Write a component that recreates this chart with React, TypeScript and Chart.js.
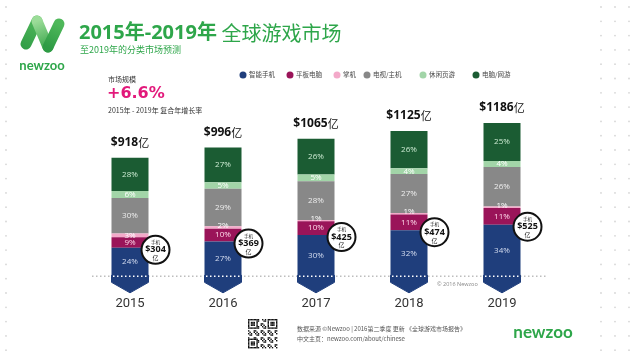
import React, { useEffect, useRef } from "react";
import { Chart, registerables } from "chart.js";
Chart.register(...registerables);

const years = ["2015", "2016", "2017", "2018", "2019"];
const totals = [918, 996, 1065, 1125, 1186];
const mobileTotals = [304, 369, 425, 474, 525];
const seriesNames = ["智能手机", "平板电脑", "掌机", "电视/主机", "休闲页游", "电脑/网游"];
const smartphonePct = [24, 27, 30, 32, 34];
const tabletPct = [9, 10, 10, 11, 11];
const handheldPct = [3, 2, 1, 1, 1];
const tvConsolePct = [30, 29, 28, 27, 26];
const casualWebPct = [6, 5, 5, 4, 4];
const pcPct = [28, 27, 26, 26, 25];
const cagrText = "+6.6%";

const seriesPct = [smartphonePct, tabletPct, handheldPct, tvConsolePct, casualWebPct, pcPct];
const seriesColors = ["#1f3e7c", "#9a1459", "#f3a9c9", "#888888", "#a2d5a8", "#1b5c33"];
const labelColors = ["#d5ddf0", "#ffd9ea", "#ffffff", "#eeeeee", "#ffffff", "#cdebd3"];
const legendX = [243, 290, 337, 367, 423, 476];

const GREEN = "#2ea64a";
const CJK = "'Noto Sans CJK SC'";

function sumAt(i: number) {
  return seriesPct.reduce((s, arr) => s + arr[i], 0);
}

function txt(ctx: CanvasRenderingContext2D, s: string, x: number, y: number, font: string, color: string, align: CanvasTextAlign = "left") {
  ctx.font = font;
  ctx.fillStyle = color;
  ctx.textAlign = align;
  ctx.textBaseline = "middle";
  ctx.fillText(s, x, y);
}

const decorPlugin = {
  id: "decor",
  beforeDraw(chart: any) {
    const ctx: CanvasRenderingContext2D = chart.ctx;
    ctx.save();
    // edge dot pattern
    ctx.fillStyle = "#d6d6d6";
    for (let y = 7; y < 360; y += 14.3) {
      for (const x of [6, 601, 615, 629]) {
        ctx.beginPath();
        ctx.arc(x, y, 0.9, 0, Math.PI * 2);
        ctx.fill();
      }
    }
    // logo
    ctx.lineCap = "round";
    ctx.lineWidth = 11;
    const g1 = ctx.createLinearGradient(20, 50, 40, 15);
    g1.addColorStop(0, "#2e9b45");
    g1.addColorStop(1, "#56bb5e");
    ctx.strokeStyle = g1;
    ctx.beginPath(); ctx.moveTo(26, 44); ctx.lineTo(37, 21); ctx.stroke();
    const g2 = ctx.createLinearGradient(37, 21, 48, 48);
    g2.addColorStop(0, "#9bdc98");
    g2.addColorStop(1, "#3aa64b");
    ctx.strokeStyle = g2;
    ctx.beginPath(); ctx.moveTo(37, 21); ctx.lineTo(48, 47); ctx.stroke();
    const g3 = ctx.createLinearGradient(48, 47, 59, 24);
    g3.addColorStop(0, "#2e9b45");
    g3.addColorStop(1, "#4fb85a");
    ctx.strokeStyle = g3;
    ctx.beginPath(); ctx.moveTo(48, 47); ctx.lineTo(59, 24); ctx.stroke();
    txt(ctx, "newzoo", 42, 66, "bold 13px Lato", GREEN, "center");

    // title
    ctx.font = "bold 20px 'Open Sans', " + CJK;
    const t1 = "2015年-2019年";
    txt(ctx, t1, 79, 33, "bold 20px 'Open Sans', " + CJK, GREEN);
    const w1 = ctx.measureText(t1).width;
    txt(ctx, " 全球游戏市场", 79 + w1, 33, "20px " + CJK, GREEN);
    txt(ctx, "至2019年的分类市场预测", 80, 50, "9px " + CJK, GREEN);

    // left info block
    txt(ctx, "市场规模", 108, 79, "7px " + CJK, "#333333");
    txt(ctx, cagrText, 107, 94, "bold 16px 'DejaVu Sans'", "#e2197b");
    txt(ctx, "2015年 - 2019年 复合年增长率", 108, 110, "7px " + CJK, "#333333");

    // legend
    seriesNames.forEach((name, k) => {
      ctx.fillStyle = seriesColors[k];
      ctx.beginPath();
      ctx.arc(legendX[k], 75, 3.5, 0, Math.PI * 2);
      ctx.fill();
      txt(ctx, name, legendX[k] + 6, 75, "6.5px " + CJK, "#444444");
    });

    // footer
    const qx = 248, qy = 319, m = 1.4;
    ctx.fillStyle = "#111111";
    for (let i = 0; i < 21; i++) {
      for (let j = 0; j < 21; j++) {
        const finder = (i < 7 && j < 7) || (i < 7 && j > 13) || (i > 13 && j < 7);
        let on = false;
        if (finder) {
          const a = i > 13 ? i - 14 : i;
          const b = j > 13 ? j - 14 : j;
          on = a === 0 || a === 6 || b === 0 || b === 6 || (a >= 2 && a <= 4 && b >= 2 && b <= 4);
        } else {
          on = ((i * 7 + j * 13 + i * j) % 5) < 2;
        }
        if (on) ctx.fillRect(qx + j * m, qy + i * m, m, m);
      }
    }
    txt(ctx, "数据来源 ©Newzoo | 2016第二季度 更新 《全球游戏市场报告》", 297, 329, "6px " + CJK, "#555555");
    txt(ctx, "中文主页：newzoo.com/about/chinese", 297, 339, "6px " + CJK, "#555555");
    txt(ctx, "newzoo", 543, 333, "bold 17px Lato", GREEN, "center");
    ctx.restore();
  },
  beforeDatasetsDraw(chart: any) {
    const ctx: CanvasRenderingContext2D = chart.ctx;
    const y0 = chart.scales.y.getPixelForValue(0);
    ctx.save();
    ctx.setLineDash([1.5, 2.5]);
    ctx.strokeStyle = "#bdbdbd";
    ctx.lineWidth = 1.5;
    ctx.beginPath();
    ctx.moveTo(92, y0);
    ctx.lineTo(548, y0);
    ctx.stroke();
    ctx.restore();
    txt(ctx, "© 2016 Newzoo", 437, y0 + 8, "5.5px 'Open Sans'", "#888888");
  },
  afterDatasetsDraw(chart: any) {
    const ctx: CanvasRenderingContext2D = chart.ctx;
    const yScale = chart.scales.y;
    const y0 = yScale.getPixelForValue(0);
    ctx.save();
    const meta0 = chart.getDatasetMeta(0);
    meta0.data.forEach((bar: any, i: number) => {
      const { x, width } = bar.getProps(["x", "width"], true);
      const l = x - width / 2, r = x + width / 2;
      // arrow tip
      ctx.fillStyle = seriesColors[0];
      ctx.strokeStyle = seriesColors[0];
      ctx.lineJoin = "round";
      ctx.lineWidth = 1;
      ctx.beginPath();
      ctx.moveTo(l, y0 - 1);
      ctx.lineTo(r, y0 - 1);
      ctx.lineTo(r, y0 + 6);
      ctx.lineTo(x, y0 + 16.5);
      ctx.lineTo(l, y0 + 6);
      ctx.closePath();
      ctx.fill();
      ctx.stroke();
      // white dots
      ctx.save();
      ctx.setLineDash([1.5, 2.5]);
      ctx.strokeStyle = "#ffffff";
      ctx.lineWidth = 1.5;
      ctx.beginPath();
      ctx.moveTo(l + 1.5, y0);
      ctx.lineTo(r - 1, y0);
      ctx.stroke();
      ctx.restore();
    });
    // percentage labels
    seriesPct.forEach((arr, k) => {
      const meta = chart.getDatasetMeta(k);
      meta.data.forEach((bar: any, i: number) => {
        const { x, y, base } = bar.getProps(["x", "y", "base"], true);
        let cy = (y + base) / 2;
        if (arr[i] <= 2) cy -= 1.5;
        txt(ctx, arr[i] + "%", x, cy, "8px 'Open Sans'", labelColors[k], "center");
      });
    });
    // totals
    meta0.data.forEach((bar: any, i: number) => {
      const { x } = bar.getProps(["x"], true);
      const top = yScale.getPixelForValue(totals[i]);
      const a = "$" + totals[i];
      ctx.font = "bold 12px 'Open Sans'";
      const wa = ctx.measureText(a).width;
      ctx.font = "11px " + CJK;
      const wb = ctx.measureText("亿").width;
      const sx = x - (wa + wb) / 2;
      txt(ctx, a, sx, top - 15, "bold 12px 'Open Sans'", "#111111");
      txt(ctx, "亿", sx + wa, top - 15, "11px " + CJK, "#111111");
    });
    // mobile circles
    meta0.data.forEach((bar: any, i: number) => {
      const { x, width } = bar.getProps(["x", "width"], true);
      const cx = x + width / 2 + 7;
      const cy = yScale.getPixelForValue(totals[i] * smartphonePct[i] / sumAt(i)) + 2;
      ctx.beginPath();
      ctx.arc(cx, cy, 14, 0, Math.PI * 2);
      ctx.fillStyle = "#ffffff";
      ctx.fill();
      ctx.lineWidth = 2;
      ctx.strokeStyle = "#111111";
      ctx.stroke();
      txt(ctx, "手机", cx, cy - 7.5, "4.5px " + CJK, "#222222", "center");
      txt(ctx, "$" + mobileTotals[i], cx, cy, "bold 9px 'Open Sans'", "#111111", "center");
      txt(ctx, "亿", cx, cy + 8, "6px " + CJK, "#222222", "center");
    });
    ctx.restore();
  },
};

export default function App() {
  const ref = useRef<HTMLCanvasElement>(null);
  useEffect(() => {
    if (!ref.current) return;
    const datasets = seriesNames.map((name, k) => ({
      label: name,
      data: years.map((_, i) => (totals[i] * seriesPct[k][i]) / sumAt(i)),
      backgroundColor: seriesColors[k],
      borderWidth: 0,
      barPercentage: 1,
      categoryPercentage: 37 / 93,
    }));
    const chart = new Chart(ref.current, {
      type: "bar",
      data: { labels: years, datasets },
      options: {
        animation: false,
        responsive: true,
        maintainAspectRatio: false,
        layout: { padding: { left: 83.5, right: 91.5, top: 80, bottom: 45 } },
        plugins: { legend: { display: false }, tooltip: { enabled: false } },
        scales: {
          x: {
            stacked: true,
            grid: { display: false, drawTicks: false },
            border: { display: false },
            ticks: { padding: 3, color: "#333333", font: { family: "Roboto", size: 13 } },
          },
          y: { stacked: true, display: false, min: -132, max: 1519 },
        },
      },
      plugins: [decorPlugin],
    });
    return () => chart.destroy();
  }, []);
  return (
    <div style={{ position: "fixed", left: 0, top: 0, width: 640, height: 360, background: "#ffffff" }}>
      <canvas ref={ref} width={640} height={360} />
    </div>
  );
}
